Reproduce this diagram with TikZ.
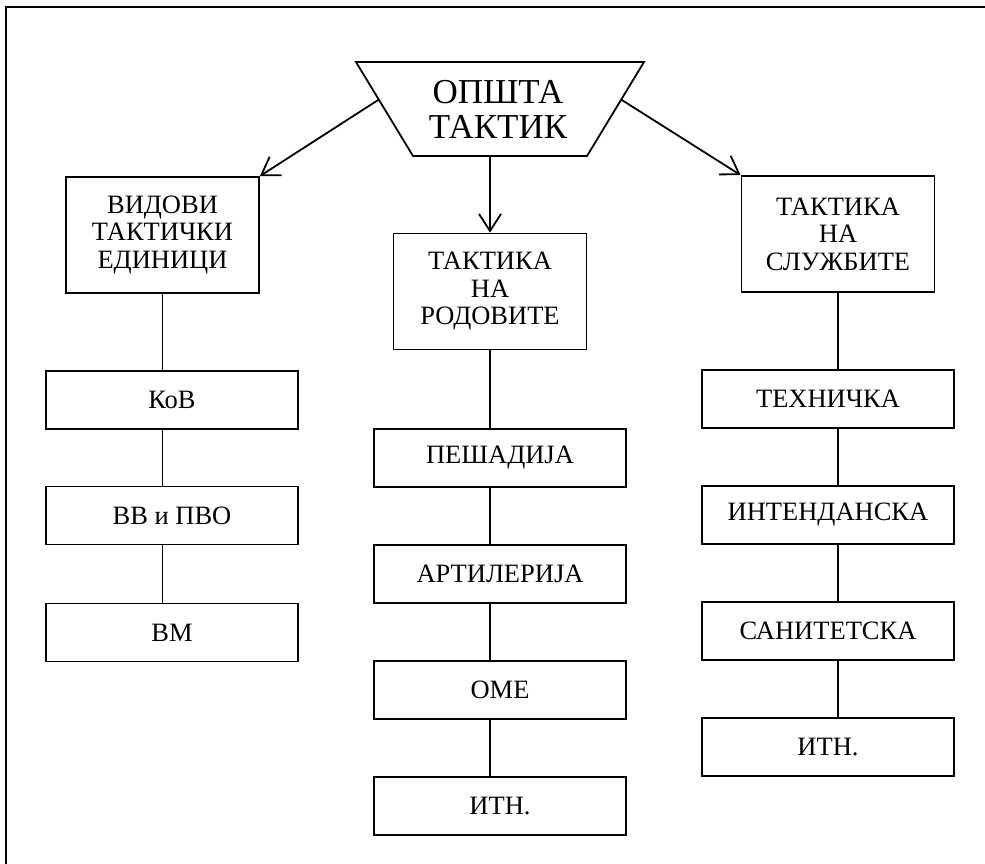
\documentclass[tikz,border=0pt]{standalone}
\usepackage{fontspec}
\setmainfont{Liberation Serif}
\usetikzlibrary{arrows.meta,calc}
\begin{document}
\begin{tikzpicture}[x=1pt,y=-1pt,
  line width=1.8pt,
  bigbox/.style={draw, rectangle, minimum width=193pt, minimum height=116pt,
    inner sep=0pt, align=center, font=\fontsize{26.5}{27.5}\selectfont},
  smallbox/.style={draw, rectangle, minimum width=252pt, minimum height=58pt,
    inner sep=0pt, align=center, font=\fontsize{26.5}{27.5}\selectfont},
  arr/.style={-{Straight Barb[length=17pt,width=22pt,line width=1.8pt]}},
  link/.style={draw}]
\useasboundingbox (0,0) rectangle (985,864);
% frame
\draw (6,864) -- (6,7) -- (985,7);
% trapezoid
\coordinate (TL) at (356,62);
\coordinate (TR) at (644,62);
\coordinate (BR) at (587,156);
\coordinate (BL) at (413,156);
\draw (TL) -- (TR) -- (BR) -- (BL) -- cycle;
\node[align=center, font=\fontsize{35}{35}\selectfont] (top) at (498,109) {ОПШТА\\ТАКТИК};
\coordinate (sl) at ($(TL)!0.4!(BL)$);
\coordinate (sr) at ($(TR)!0.4!(BR)$);
\coordinate (sb) at (490,156);
% big boxes
\node[bigbox] (vid) at (162.5,235) {ВИДОВИ\\ТАКТИЧКИ\\ЕДИНИЦИ};
\node[bigbox] (rod) at (490,291.5) {ТАКТИКА\\НА\\РОДОВИТЕ};
\node[bigbox] (slu) at (838,234) {ТАКТИКА\\НА\\СЛУЖБИТЕ};
% arrows
\draw[arr] (sl) -- (vid.north east);
\draw[arr] (sr) -- (slu.north west);
\draw[arr] (sb) -- (rod.north);
% left column
\node[smallbox] (kov) at (172,400) {КоВ};
\node[smallbox] (vv) at (172,515.5) {ВВ и ПВО};
\node[smallbox] (vm) at (172,632.5) {ВМ};
% middle column
\node[smallbox] (pes) at (500,458) {ПЕШАДИЈА};
\node[smallbox] (art) at (500,574) {АРТИЛЕРИЈА};
\node[smallbox] (ome) at (500,690) {ОМЕ};
\node[smallbox] (itm) at (500,806) {ИТН.};
% right column
\node[smallbox] (teh) at (828,399) {ТЕХНИЧКА};
\node[smallbox] (int) at (828,515) {ИНТЕНДАНСКА};
\node[smallbox] (san) at (828,631) {САНИТЕТСКА};
\node[smallbox] (itr) at (828,747) {ИТН.};
% links
\draw[link] (vid.south) -- (vid.south |- kov.north);
\draw[link] (vid.south |- kov.south) -- (vid.south |- vv.north);
\draw[link] (vid.south |- vv.south) -- (vid.south |- vm.north);
\draw[link] (rod.south) -- (rod.south |- pes.north);
\draw[link] (rod.south |- pes.south) -- (rod.south |- art.north);
\draw[link] (rod.south |- art.south) -- (rod.south |- ome.north);
\draw[link] (rod.south |- ome.south) -- (rod.south |- itm.north);
\draw[link] (slu.south) -- (slu.south |- teh.north);
\draw[link] (slu.south |- teh.south) -- (slu.south |- int.north);
\draw[link] (slu.south |- int.south) -- (slu.south |- san.north);
\draw[link] (slu.south |- san.south) -- (slu.south |- itr.north);
\end{tikzpicture}
\end{document}
